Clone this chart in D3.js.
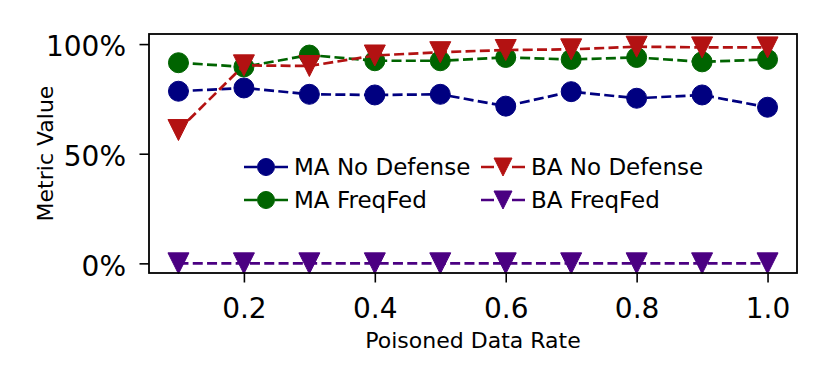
<!DOCTYPE html>
<html>
<head>
  <meta charset="utf-8">
  <title>Metric Value vs Poisoned Data Rate</title>
  <script src="https://d3js.org/d3.v7.min.js"></script>
  <style>
    body { margin: 0; background: white; }
    svg { font-family: "DejaVu Sans", sans-serif; }
  </style>
</head>
<body>
  <div id="chart"></div>
  <script>
    // data
    var rates = [0.1, 0.2, 0.3, 0.4, 0.5, 0.6, 0.7, 0.8, 0.9, 1.0];
    var maNoDefense = [0.785, 0.800, 0.771, 0.768, 0.771, 0.717, 0.783, 0.753, 0.768, 0.712];
    var baNoDefense = [0.608, 0.903, 0.900, 0.948, 0.963, 0.973, 0.976, 0.988, 0.985, 0.985];
    var maFreqFed = [0.915, 0.896, 0.950, 0.924, 0.924, 0.939, 0.930, 0.939, 0.919, 0.930];
    var baFreqFed = [0, 0, 0, 0, 0, 0, 0, 0, 0, 0];
    var xTicks = [0.2, 0.4, 0.6, 0.8, 1.0];
    var yTicks = [0, 0.5, 1.0];

    var series = [
      { name: "MA No Defense", values: maNoDefense, color: "#000080", marker: "circle" },
      { name: "MA FreqFed", values: maFreqFed, color: "#006400", marker: "circle" },
      { name: "BA No Defense", values: baNoDefense, color: "#b31212", marker: "tri" },
      { name: "BA FreqFed", values: baFreqFed, color: "#4b0082", marker: "tri" }
    ];

    var width = 830, height = 388;
    var frame = { left: 149, right: 797, top: 34, bottom: 273 };

    var svg = d3.select("#chart").append("svg")
      .attr("width", width).attr("height", height);

    var x = d3.scaleLinear().domain([0.055, 1.045]).range([frame.left, frame.right]);
    var y = d3.scaleLinear().domain([-0.044, 1.046]).range([frame.bottom, frame.top]);

    function markerPath(type, size) {
      if (type === "circle") {
        return d3.symbol().type(d3.symbolCircle).size(Math.PI * size * size / 4)();
      }
      var h = size / 2;
      return "M" + (-h) + "," + (-h) + "L" + h + "," + (-h) + "L0," + h + "Z";
    }

    // axes
    var xAxis = d3.axisBottom(x).tickValues(xTicks).tickFormat(d3.format(".1f")).tickSize(9.5);
    var yAxis = d3.axisLeft(y).tickValues(yTicks).tickFormat(d3.format(".0%")).tickSize(9.5);

    var gx = svg.append("g").attr("transform", "translate(0," + frame.bottom + ")").call(xAxis);
    var gy = svg.append("g").attr("transform", "translate(" + frame.left + ",0)").call(yAxis);
    [gx, gy].forEach(function (g) {
      g.select(".domain").remove();
      g.selectAll(".tick line").attr("stroke", "#000").attr("stroke-width", 1.6);
      g.selectAll(".tick text").attr("font-size", 28).attr("fill", "#000")
        .attr("font-family", "DejaVu Sans");
    });
    gx.selectAll(".tick text").attr("y", 45).attr("dy", null);
    gy.selectAll(".tick text").attr("x", -23).attr("dy", "0.42em");

    // lines + markers
    var line = d3.line().x(function (d, i) { return x(rates[i]); }).y(function (d) { return y(d); });
    var plot = svg.append("g");
    series.forEach(function (s, k) {
      plot.append("path")
        .attr("d", line(s.values))
        .attr("fill", "none")
        .attr("stroke", s.color)
        .attr("stroke-width", 2.7)
        .attr("stroke-dasharray", "10,4.3");
      plot.selectAll(".m" + k)
        .data(s.values)
        .enter().append("path")
        .attr("transform", function (d, i) { return "translate(" + x(rates[i]) + "," + y(d) + ")"; })
        .attr("d", markerPath(s.marker, s.marker === "circle" ? 20 : 21))
        .attr("fill", s.color)
        .attr("stroke", s.color)
        .attr("stroke-width", 1);
    });

    // frame
    svg.append("rect")
      .attr("x", frame.left).attr("y", frame.top)
      .attr("width", frame.right - frame.left).attr("height", frame.bottom - frame.top)
      .attr("fill", "none").attr("stroke", "#000").attr("stroke-width", 1.8);

    // legend (two columns, no box)
    var legendItems = [
      { s: series[0], col: 0, row: 0 },
      { s: series[1], col: 0, row: 1 },
      { s: series[2], col: 1, row: 0 },
      { s: series[3], col: 1, row: 1 }
    ];
    var colX = [244, 481], rowY = [167, 200];
    var leg = svg.append("g");
    legendItems.forEach(function (it) {
      var lx = colX[it.col], ly = rowY[it.row];
      leg.append("line")
        .attr("x1", lx).attr("x2", lx + 44).attr("y1", ly).attr("y2", ly)
        .attr("stroke", it.s.color).attr("stroke-width", 2.7)
        .attr("stroke-dasharray", "13,18");
      leg.append("path")
        .attr("transform", "translate(" + (lx + 22) + "," + ly + ")")
        .attr("d", markerPath(it.s.marker, it.s.marker === "circle" ? 17 : 18))
        .attr("fill", it.s.color).attr("stroke", it.s.color).attr("stroke-width", 1);
      leg.append("text")
        .attr("x", lx + 50).attr("y", ly + 8.3)
        .attr("font-size", 23).attr("fill", "#000")
        .text(it.s.name);
    });

    // axis labels
    svg.append("text")
      .attr("x", (frame.left + frame.right) / 2).attr("y", 348)
      .attr("text-anchor", "middle").attr("font-size", 22)
      .text("Poisoned Data Rate");
    svg.append("text")
      .attr("transform", "translate(52.5," + ((frame.top + frame.bottom) / 2) + ") rotate(-90)")
      .attr("text-anchor", "middle").attr("font-size", 22)
      .text("Metric Value");
  </script>
</body>
</html>
